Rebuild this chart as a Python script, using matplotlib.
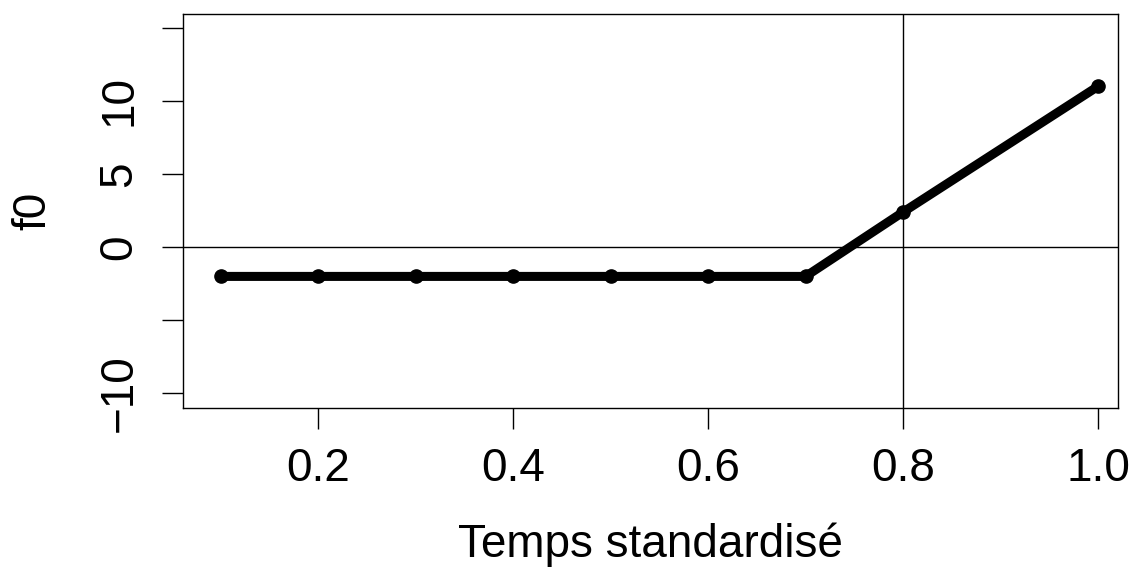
import matplotlib.pyplot as plt

# f0 contour against standardised time
temps = [0.1, 0.2, 0.3, 0.4, 0.5, 0.6, 0.7, 0.8, 1.0]
f0 = [-2.0, -2.0, -2.0, -2.0, -2.0, -2.0, -2.0, 2.4, 11.0]

x_ticks = [0.2, 0.4, 0.6, 0.8, 1.0]
x_labels = ["0.2", "0.4", "0.6", "0.8", "1.0"]
y_ticks = [-10, -5, 0, 5, 10, 15]
y_labels = ["\u221210", "", "0", "5", "10", ""]

plt.rcParams['font.family'] = ['Liberation Sans', 'DejaVu Sans']

fig = plt.figure(figsize=(11.33, 5.68), dpi=100)
ax = fig.add_axes([0.1615, 0.2817, 0.8253, 0.6937])

ax.plot(temps, f0, color="black", linewidth=6.5, marker="o", markersize=9.5,
        solid_capstyle="round", zorder=3)
ax.axhline(0, color="black", linewidth=1.0, zorder=2)
ax.axvline(0.8, color="black", linewidth=1.0, zorder=2)

ax.set_xlim(0.0615, 1.0205)
ax.set_ylim(-11.0, 15.95)

ax.set_xticks(x_ticks)
ax.set_xticklabels(x_labels)
ax.set_yticks(y_ticks)
ax.set_yticklabels(y_labels, rotation=90, va="center")

ax.tick_params(axis="both", direction="out", length=15, width=1.0,
               labelsize=33, colors="black")
ax.tick_params(axis="x", pad=13)
ax.tick_params(axis="y", pad=15)

for s in ax.spines.values():
    s.set_linewidth(1.0)

ax.set_xlabel("Temps standardisé", fontsize=33, labelpad=23)
ax.set_ylabel("f0", fontsize=33, labelpad=30)

plt.savefig("out.png", dpi=100)
